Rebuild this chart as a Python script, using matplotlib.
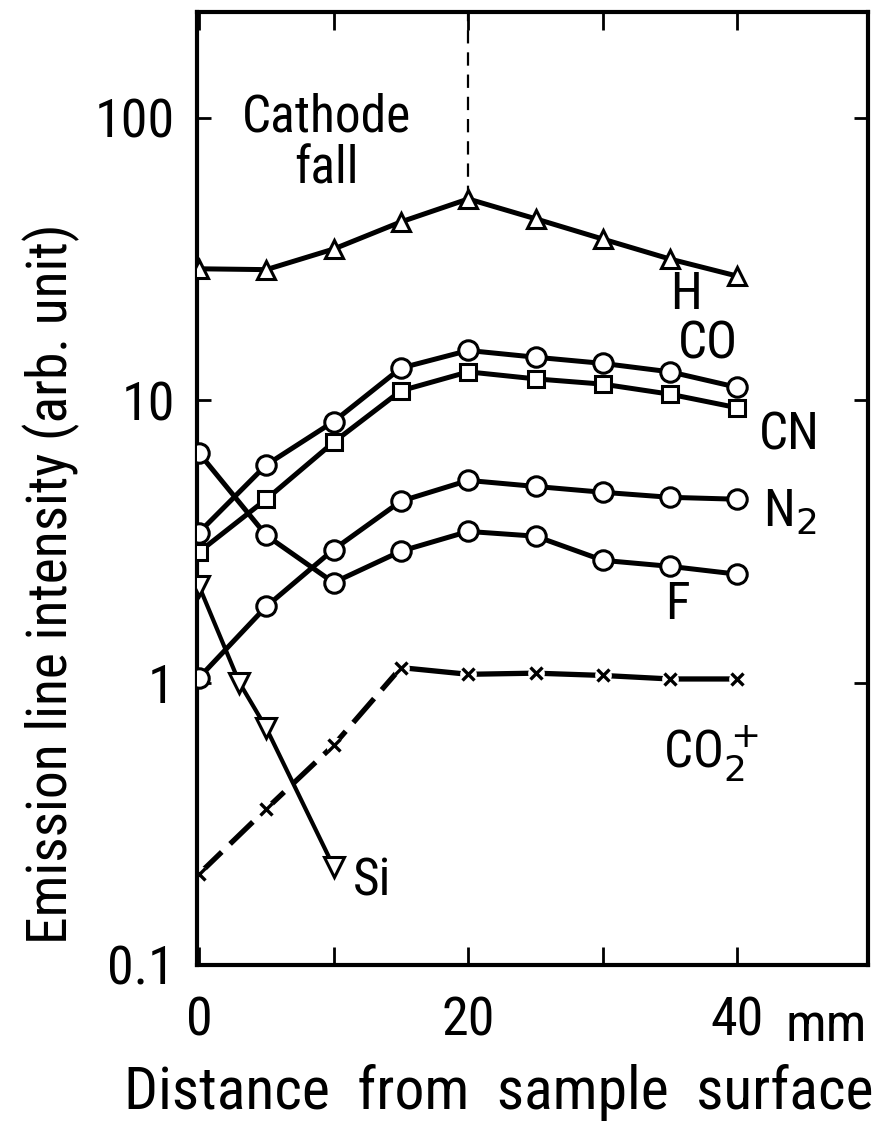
import matplotlib

matplotlib.use("Agg")
import matplotlib.pyplot as plt
from matplotlib.ticker import FixedLocator, NullLocator
from matplotlib.transforms import blended_transform_factory

plt.rcParams["font.family"] = ["Roboto Condensed", "DejaVu Sans"]

# distance from sample surface (mm)
x_std = [0, 5, 10, 15, 20, 25, 30, 35, 40]
x_si = [0, 3, 5, 10]

# emission line intensities (arb. unit)
h_int = [29.2, 29.0, 34.3, 42.8, 51.6, 43.9, 37.2, 31.6, 27.5]
co_int = [3.4, 5.9, 8.4, 13.0, 15.0, 14.2, 13.5, 12.6, 11.1]
cn_int = [2.9, 4.46, 7.1, 10.8, 12.6, 11.9, 11.4, 10.5, 9.4]
n2_int = [1.04, 1.86, 2.96, 4.39, 5.2, 4.95, 4.72, 4.53, 4.46]
f_int = [6.5, 3.32, 2.26, 2.92, 3.43, 3.30, 2.71, 2.58, 2.42]
co2p_int = [0.21, 0.357, 0.60, 1.13, 1.07, 1.08, 1.06, 1.03, 1.03]
si_int = [2.2, 1.0, 0.69, 0.223]

y_ticks = [0.1, 1, 10, 100]
y_ticklabels = ["0.1", "1", "10", "100"]

fig = plt.figure(figsize=(8.75, 11.42), dpi=100)
ax = fig.add_axes([0.2251, 0.155, 0.767, 0.8345])
ax.set_yscale("log")
ax.set_xlim(-0.15, 49.7)
ax.set_ylim(0.1, 237)

lw = 3.6
mk = dict(mfc="white", mec="black", mew=2.2, color="black", lw=lw)

ax.plot(x_std, h_int, marker="^", ms=13, zorder=3, **mk)
ax.plot(x_std, co_int, marker="o", ms=14, zorder=3, **mk)
ax.plot(x_std, cn_int, marker="s", ms=11, zorder=3, **mk)
ax.plot(x_std, n2_int, marker="o", ms=14, zorder=3, **mk)
ax.plot(x_std, f_int, marker="o", ms=14, zorder=3, **mk)
ax.plot(x_si, si_int, marker="v", ms=14, mfc="white", mec="black", mew=2.2,
        color="black", lw=3.0, zorder=3)

# CO2+ : dashed inside the cathode fall, solid beyond it
ax.plot(x_std[:4], co2p_int[:4], color="black", lw=3.8, ls=(0, (6, 2.2)), zorder=2)
ax.plot(x_std[3:], co2p_int[3:], color="black", lw=3.8, zorder=2)
ax.plot(x_std, co2p_int, ls="none", marker="o", ms=12, mfc="white", mec="none",
        zorder=2.5)
ax.plot(x_std, co2p_int, ls="none", marker="x", ms=9, mew=2.4, color="black",
        zorder=3)

# cathode fall boundary
ax.plot([20, 20], [h_int[4], 237], color="black", lw=1.6, ls=(0, (6, 4)), zorder=1)
ax.text(9.5, 81, "Cathode\nfall", fontsize=37, ha="center", va="center",
        linespacing=1.05)

lab = dict(fontsize=37, ha="left", va="center")
ax.text(35.0, 23.6, "H", **lab)
ax.text(35.6, 15.7, "CO", **lab)
ax.text(41.6, 7.5, "CN", **lab)
ax.text(41.9, 4.0, r"N$_2$", **lab)
ax.text(34.6, 1.89, "F", **lab)
ax.text(34.5, 0.56, r"CO$_2^+$", **lab)
ax.text(11.4, 0.197, "Si", **lab)

for s in ax.spines.values():
    s.set_linewidth(3.0)

ax.xaxis.set_major_locator(FixedLocator([0, 10, 20, 30, 40]))
ax.set_xticklabels(["0", "", "20", "", "40"])
ax.yaxis.set_major_locator(FixedLocator(y_ticks))
ax.yaxis.set_minor_locator(NullLocator())
ax.set_yticklabels(y_ticklabels)
ax.tick_params(axis="both", which="major", direction="in", width=2.0,
               labelsize=39, top=True, right=True)
ax.tick_params(axis="x", length=13, pad=22)
ax.tick_params(axis="y", length=10, pad=16)
trans = blended_transform_factory(ax.transData, ax.transAxes)
ax.text(43.6, -0.038, "mm", fontsize=39, ha="left", va="top", transform=trans)

ax.set_ylabel("Emission line intensity (arb. unit)", fontsize=40)
ax.yaxis.set_label_coords(-0.174, 0.40)
fig.text(0.570, 0.043, "Distance  from  sample  surface", fontsize=43,
         ha="center", va="center")

fig.savefig("out.png", dpi=100)
